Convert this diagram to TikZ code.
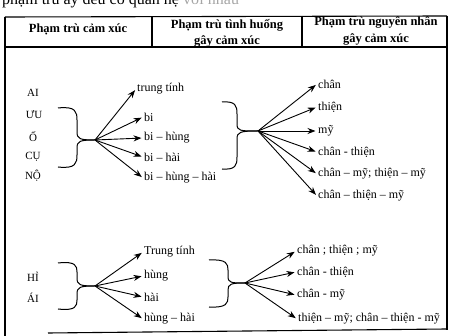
\documentclass[tikz,border=0pt]{standalone}
\usepackage{fontspec}
\setmainfont{Liberation Serif}
\usetikzlibrary{arrows.meta}
\begin{document}
\begin{tikzpicture}[x=1pt,y=-1pt,
 lbl/.style={anchor=west,inner sep=1pt,font=\fontsize{12}{13}\selectfont},
 emo/.style={inner sep=1pt,font=\fontsize{11}{12}\selectfont},
 hdr/.style={inner sep=1pt,font=\fontsize{12.5}{16.5}\bfseries\selectfont, align=center},
 arr/.style={-{Stealth[length=8pt,width=6pt]},line width=0.9pt,shorten >=1.5pt},
 brc/.style={line width=1pt},
 frame/.style={line width=1.1pt}]
\useasboundingbox (0,0) rectangle (451,336);
\clip (0,0) rectangle (451,336);
% top cut-off text
\node[anchor=base west,inner sep=0pt,font=\fontsize{16}{17}\selectfont] (top) at (2,4.5) {phạm trù ấy đều có quan hệ \textcolor{black!35}{với nhau}};
% frame
\draw[frame] (5,17) -- (447,16);
\draw[frame] (5,17) -- (5,336);
\draw[frame] (447,16) -- (447,330);
\draw[frame] (5,47) -- (447,47);
\draw[frame] (152,17) -- (152,47);
\draw[frame] (302,16) -- (302,47);
\draw[frame] (48,333) -- (447,329);
% headers
\node[hdr] (h1) at (78,29) {Phạm trù cảm xúc};
\node[hdr] (h2) at (227,33.5) {Phạm trù tình huống\\gây cảm xúc};
\node[hdr] (h3) at (376,31) {Phạm trù nguyên nhân\\gây cảm xúc};
% group 1 emotions
\node[emo] (ai) at (33,93) {AI};
\node[emo] (uu) at (34,115) {ƯU};
\node[emo] (o) at (33,137) {Ố};
\node[emo] (cu) at (33,157) {CỤ};
\node[emo] (no) at (33,176) {NỘ};
% brace 1
\coordinate (f1) at (95,140);
\draw[brc] (58,108) .. controls (76,106) and (77,112) .. (77,120) -- (77,132) .. controls (77,139) and (80,140) .. (f1);
\draw[brc] (58,167) .. controls (76,169) and (77,163) .. (77,155) -- (77,148) .. controls (77,141) and (80,140) .. (f1);
% situations 1
\node[lbl] (t1) at (136,89) {trung tính};
\node[lbl] (t2) at (143,117) {bi};
\node[lbl] (t3) at (143,138) {bi – hùng};
\node[lbl] (t4) at (143,157) {bi – hài};
\node[lbl] (t5) at (143,178) {bi – hùng – hài};
\foreach \t in {t1,t2,t3,t4,t5} \draw[arr] (f1) -- (\t.west);
% brace 2
\coordinate (f2) at (258,131);
\draw[brc] (222,102) .. controls (236,101) and (237,106) .. (237,114) -- (237,124) .. controls (237,131) and (240,131) .. (f2);
\draw[brc] (222,169) .. controls (236,170) and (237,165) .. (237,157) -- (237,139) .. controls (237,132) and (240,131) .. (f2);
% causes 1
\node[lbl] (c1) at (317,84) {chân};
\node[lbl] (c2) at (317,107) {thiện};
\node[lbl] (c3) at (317,131) {mỹ};
\node[lbl] (c4) at (317,152) {chân - thiện};
\node[lbl] (c5) at (317,174) {chân – mỹ; thiện – mỹ};
\node[lbl] (c6) at (317,196) {chân – thiện – mỹ};
\foreach \t in {c1,c2,c3,c4,c5,c6} \draw[arr] (f2) -- (\t.west);
% group 2 emotions
\node[emo] (hi) at (33,277) {HỈ};
\node[emo] (ai2) at (33,298) {ÁI};
\coordinate (f3) at (95,286);
\draw[brc] (58,263) .. controls (76,261) and (77,266) .. (77,272) -- (77,278) .. controls (77,285) and (80,286) .. (f3);
\draw[brc] (58,309) .. controls (76,311) and (77,306) .. (77,300) -- (77,294) .. controls (77,287) and (80,286) .. (f3);
\node[lbl] (s1) at (143,252) {Trung tính};
\node[lbl] (s2) at (143,276) {hùng};
\node[lbl] (s3) at (143,297) {hài};
\node[lbl] (s4) at (143,319) {hùng – hài};
\foreach \t in {s1,s2,s3,s4} \draw[arr] (f3) -- (\t.west);
% brace 4
\coordinate (f4) at (245,283);
\draw[brc] (209,260) .. controls (227,259) and (228,264) .. (228,270) -- (228,276) .. controls (228,283) and (231,283) .. (f4);
\draw[brc] (209,307) .. controls (227,308) and (228,303) .. (228,297) -- (228,290) .. controls (228,284) and (231,283) .. (f4);
\node[lbl] (d1) at (296,251) {chân ; thiện ; mỹ};
\node[lbl] (d2) at (296,272) {chân - thiện};
\node[lbl] (d3) at (296,295) {chân - mỹ};
\node[lbl] (d4) at (297,319) {thiện – mỹ; chân – thiện - mỹ};
\foreach \t in {d1,d2,d3,d4} \draw[arr] (f4) -- (\t.west);
\end{tikzpicture}
\end{document}
